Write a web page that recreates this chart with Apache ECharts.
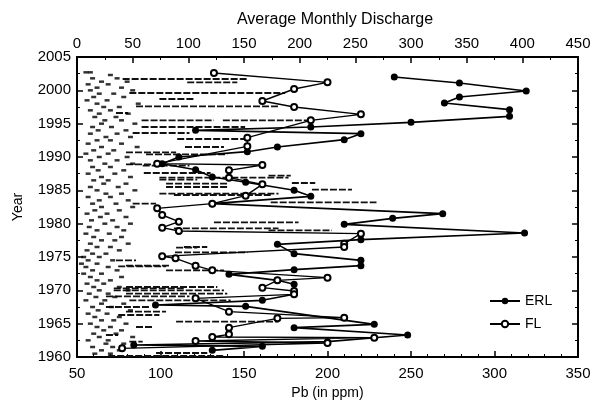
<!DOCTYPE html>
<html><head><meta charset="utf-8">
<script src="https://cdn.jsdelivr.net/npm/echarts@6/dist/echarts.min.js"></script>
<style>html,body{margin:0;padding:0;background:#fff}#c{width:602px;height:413px}</style>
</head><body><div id="c"></div>
<script>
// ---- data ----
const pbTicks = [50, 100, 150, 200, 250, 300, 350];
const dischargeTicks = [0, 50, 100, 150, 200, 250, 300, 350, 400, 450];
const yearTicks = [1960, 1965, 1970, 1975, 1980, 1985, 1990, 1995, 2000, 2005];

const erlYear = [2002.0,2001.1,1999.9,1999.0,1998.1,1997.1,1996.1,1995.2,1994.5,1994.0,1993.5,1992.6,1991.5,1990.8,1990.0,1989.0,1988.1,1987.0,1986.2,1985.0,1984.1,1983.0,1981.5,1980.8,1979.9,1978.6,1977.6,1976.9,1975.5,1974.5,1973.7,1973.1,1972.4,1971.5,1970.9,1969.4,1968.5,1967.8,1967.6,1964.9,1964.4,1963.3,1962.3,1961.8,1961.6,1961.0];
const erlPb   = [240,279,319,279,270,309,309,250,190,121,220,210,170,152,111,101,121,131,151,180,190,131,269,239,210,318,220,170,180,220,220,180,141,170,180,180,161,97,151,228,180,248,200,84,161,131];

const flYear = [2002.6,2001.2,2000.2,1998.4,1997.5,1996.4,1995.5,1992.9,1991.6,1989.0,1988.8,1988.0,1986.9,1985.9,1984.2,1983.0,1982.3,1981.3,1980.3,1979.4,1978.9,1978.5,1977.0,1976.5,1975.1,1974.8,1973.7,1973.0,1971.9,1971.5,1970.4,1969.9,1969.4,1968.8,1966.8,1965.9,1965.8,1964.4,1963.4,1963.0,1962.9,1962.4,1962.1,1961.3];
const flPb   = [132,200,180,161,180,220,190,152,152,98,161,141,141,161,151,131,98,101,111,101,111,220,210,210,101,109,121,131,200,170,161,180,180,121,141,210,170,141,141,131,228,121,200,77];

// monthly discharge streaks: [year, from, to]
const dischargeStreaks = [
 [2001.7,41,153],[2001.2,99,144],[1999.6,47,187],[1998.7,74,105],[1997.6,53,181],[1996.6,35,46],
 [1995.5,58,123],[1995.5,131,208],[1994.5,58,151],[1993.6,50,101],[1992.7,90,151],[1991.5,97,132],
 [1990.7,44,89],[1990.4,62,135],[1988.9,44,68],[1988.7,59,101],[1987.6,60,120],[1986.9,74,190],
 [1986.6,74,108],[1986.0,80,135],[1985.5,80,135],[1987.2,172,192],[1986.1,193,214],[1985.1,211,247],
 [1984.3,87,174],[1984.5,74,181],[1983.2,174,269],[1983.0,50,71],[1980.2,123,199],[1979.3,87,181],
 [1979.0,172,229],[1976.5,96,117],[1976.4,89,108],[1975.7,88,153],[1974.5,35,53],[1973.6,37,80],
 [1973.0,80,132],[1970.3,33,96],[1970.0,33,132],[1969.1,26,101],[1968.5,47,138],[1967.5,26,65],
 [1966.3,37,74],[1965.3,89,181],[1964.5,53,68],[1963.3,26,37],[1962.3,47,59],[1960.6,71,117],
 [1960.15,28,132],[1970.5,44,126],[1969.5,44,135],[1966.8,44,80],[1973.7,44,83]
];

// low-flow monthly discharge dashes: [year, discharge]
const dischargeDashes = [
 [2002.7,8],[2002.7,12],[2002.3,30],[2001.8,14],[2001.8,36],[2001.3,22],[2001.3,45],[2000.9,10],[2000.9,28],
 [2000.4,18],[2000.4,40],[2000.0,12],[2000.0,50],[1999.5,20],[1999.5,33],[1999.0,15],[1999.0,42],[1998.5,9],
 [1998.5,27],[1998.0,18],[1998.0,55],[1997.5,24],[1997.5,38],[1997.0,12],[1997.0,30],[1996.5,20],[1996.5,46],
 [1996.0,16],[1996.0,35],[1995.5,25],[1995.5,40],[1995.0,22],[1995.0,52],[1994.5,14],[1994.5,31],[1994.0,19],
 [1994.0,44],[1993.5,12],[1993.5,36],[1993.0,26],[1993.0,48],[1992.5,18],[1992.5,30],[1992.0,10],[1992.0,40],
 [1991.5,22],[1991.5,54],[1991.0,15],[1991.0,33],[1990.5,8],[1990.5,28],[1990.0,20],[1990.0,45],[1989.5,12],
 [1989.5,36],[1989.0,25],[1989.0,50],[1988.5,14],[1988.5,30],[1988.0,19],[1988.0,42],[1987.5,10],[1987.5,34],
 [1987.0,22],[1987.0,48],[1986.5,15],[1986.5,28],[1986.0,24],[1986.0,44],[1985.5,12],[1985.5,37],[1985.0,18],
 [1985.0,52],[1984.5,26],[1984.5,40],[1984.0,10],[1984.0,30],[1983.5,20],[1983.5,46],[1983.0,14],[1983.0,35],
 [1982.5,22],[1982.5,50],[1982.0,16],[1982.0,38],[1981.5,9],[1981.5,27],[1981.0,21],[1981.0,44],[1980.5,13],
 [1980.5,32],[1980.0,25],[1980.0,48],[1979.5,11],[1979.5,36],[1979.0,18],[1979.0,42],[1978.5,8],[1978.5,29],
 [1978.0,15],[1978.0,40],[1977.5,22],[1977.5,34],[1977.0,12],[1977.0,46],[1976.5,18],[1976.5,30],[1976.0,9],
 [1976.0,38],[1975.5,14],[1975.5,26],[1975.0,6],[1975.0,20],[1974.5,10],[1974.5,32],[1974.0,4],[1974.0,18],
 [1973.5,8],[1973.5,28],[1973.0,14],[1973.0,36],[1972.5,6],[1972.5,22],[1972.0,12],[1972.0,40],[1971.5,18],
 [1971.5,30],[1971.0,9],[1971.0,24],[1970.5,15],[1970.5,38],[1970.0,20],[1970.0,46],[1969.5,11],[1969.5,28],
 [1969.0,17],[1969.0,34],[1968.5,8],[1968.5,25],[1968.0,22],[1968.0,42],[1967.5,14],[1967.5,31],[1967.0,19],
 [1967.0,48],[1966.5,10],[1966.5,27],[1966.0,16],[1966.0,38],[1965.5,22],[1965.5,33],[1965.0,12],[1965.0,44],
 [1964.5,18],[1964.5,30],[1964.0,24],[1964.0,40],[1963.5,15],[1963.5,35],[1963.0,20],[1963.0,50],[1962.5,10],
 [1962.5,28],[1962.0,26],[1962.0,42],[1961.5,14],[1961.5,32],[1961.0,22],[1961.0,38],[1960.5,16],[1960.5,30]
];

// ---- chart ----
const FONT = '"Liberation Sans", Arial, sans-serif';
const chart = echarts.init(document.getElementById('c'), null, {renderer: 'canvas'});
const axisLine = {show: true, lineStyle: {color: '#000', width: 2}};
const tick = {show: true, inside: true, length: 6, lineStyle: {color: '#000', width: 1.5}};
const minor = (n) => ({show: true, splitNumber: n, length: 3, lineStyle: {color: '#000', width: 1}});
const lbl = {color: '#000', fontSize: 15, fontFamily: FONT};

chart.setOption({
  animation: false,
  backgroundColor: '#fff',
  title: {text: 'Average Monthly Discharge', left: 330, top: 7, textAlign: 'center',
          textStyle: {color: '#000', fontSize: 16, fontWeight: 'normal', fontFamily: FONT}},
  grid: {left: 77, right: 24, top: 57, bottom: 56},
  legend: {
    orient: 'vertical', left: 484, top: 289, itemWidth: 30, itemHeight: 8, itemGap: 9,
    textStyle: {color: '#000', fontSize: 14, fontFamily: FONT},
    data: ['ERL', 'FL']
  },
  xAxis: [
    {type: 'value', position: 'bottom', min: pbTicks[0], max: pbTicks[pbTicks.length - 1], interval: 50,
     name: 'Pb (in ppm)', nameLocation: 'middle', nameGap: 28, nameTextStyle: {color: '#000', fontSize: 14, fontFamily: FONT},
     axisLine, axisTick: tick, minorTick: minor(5), splitLine: {show: false},
     axisLabel: Object.assign({margin: 9, formatter: v => String(v)}, lbl)},
    {type: 'value', position: 'top', min: dischargeTicks[0], max: dischargeTicks[dischargeTicks.length - 1], interval: 50,
     axisLine, axisTick: tick, minorTick: minor(2), splitLine: {show: false},
     axisLabel: Object.assign({margin: 6, formatter: v => String(v)}, lbl)}
  ],
  yAxis: [
    {type: 'value', position: 'left', min: yearTicks[0], max: yearTicks[yearTicks.length - 1], interval: 5,
     name: 'Year', nameLocation: 'middle', nameGap: 52, nameRotate: 90,
     nameTextStyle: {color: '#000', fontSize: 14, fontFamily: FONT},
     axisLine, axisTick: tick, minorTick: minor(2), splitLine: {show: false},
     axisLabel: Object.assign({margin: 6, formatter: v => String(v)}, lbl)},
    {type: 'value', position: 'right', min: yearTicks[0], max: yearTicks[yearTicks.length - 1], interval: 5,
     axisLine, axisTick: tick, minorTick: minor(2), splitLine: {show: false}, axisLabel: {show: false}}
  ],
  series: [
    {type: 'custom', name: 'discharge', xAxisIndex: 1, yAxisIndex: 0, z: 1,
     data: dischargeStreaks, encode: {x: [1, 2], y: 0},
     renderItem: (params, api) => {
       const y = api.value(0);
       const a = api.coord([api.value(1), y]);
       const b = api.coord([api.value(2), y]);
       return {type: 'line', shape: {x1: a[0], y1: a[1], x2: b[0], y2: b[1]},
               style: {stroke: '#111', lineWidth: 1.8, lineDash: [7, 2]}};
     }},
    {type: 'scatter', name: 'dashes', xAxisIndex: 1, yAxisIndex: 0, z: 1,
     symbol: 'rect', symbolSize: [5, 2.5], itemStyle: {color: '#000'},
     data: dischargeDashes.map(d => [d[1], d[0]])},
    {type: 'line', name: 'ERL', xAxisIndex: 0, yAxisIndex: 0, z: 3,
     data: erlYear.map((y, i) => [erlPb[i], y]),
     symbol: 'circle', symbolSize: 7, showAllSymbol: true,
     lineStyle: {color: '#000', width: 1.6}, itemStyle: {color: '#000'}},
    {type: 'line', name: 'FL', xAxisIndex: 0, yAxisIndex: 0, z: 4,
     data: flYear.map((y, i) => [flPb[i], y]),
     symbol: 'emptyCircle', symbolSize: 6, showAllSymbol: true,
     lineStyle: {color: '#000', width: 1.4}, itemStyle: {color: '#000', borderColor: '#000', borderWidth: 1.5}}
  ]
});
</script>
</body></html>
